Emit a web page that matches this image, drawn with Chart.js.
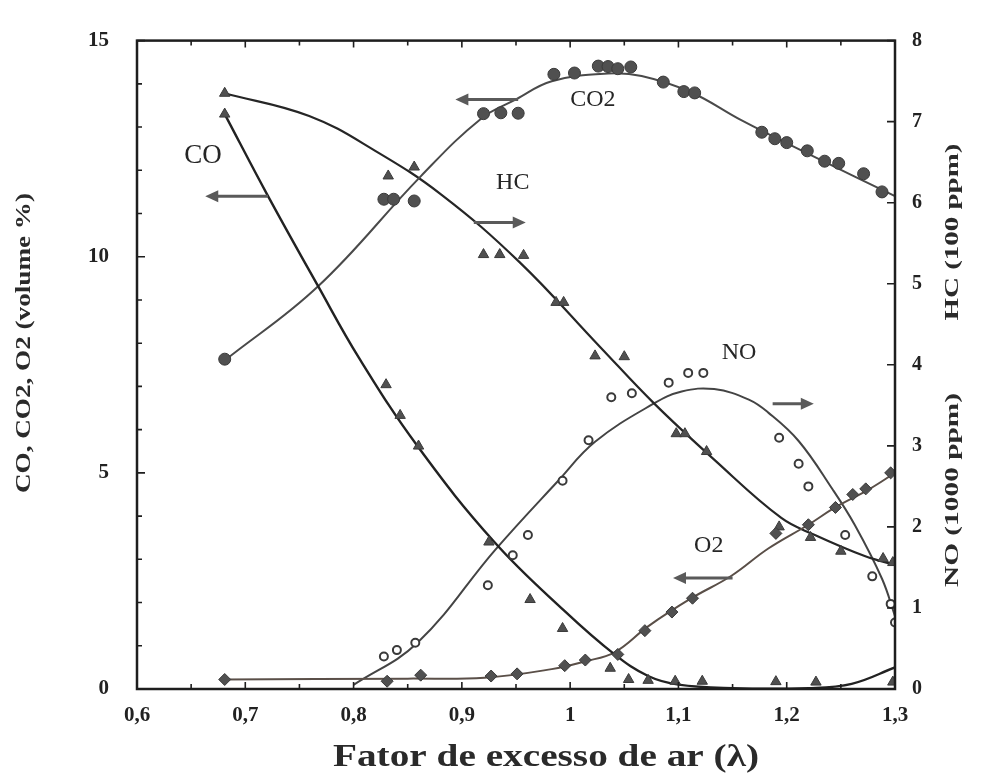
<!DOCTYPE html>
<html><head><meta charset="utf-8">
<script src="https://cdn.jsdelivr.net/npm/chart.js@4.4.1/dist/chart.umd.min.js"></script>
<style>html,body{margin:0;padding:0;background:#fff;}#wrap{width:984px;height:774px;}</style>
</head><body><div id="wrap"><canvas id="c" width="984" height="774"></canvas></div>
<script>
// ---- Data (x = excess air factor λ) ----
// CO (volume %, left axis)
const coCurveX = [0.681, 0.72, 0.767, 0.805, 0.859, 0.93, 0.995, 1.041, 1.072, 1.1, 1.15, 1.22, 1.26, 1.3];
const coCurveY = [13.3, 11.45, 9.33, 7.66, 5.62, 3.4, 1.8, 0.8, 0.3, 0.1, 0.02, 0.02, 0.12, 0.5];
const coPtsX = [0.681, 0.83, 0.843, 0.86, 0.925, 0.963, 0.993, 1.037, 1.054, 1.072, 1.097, 1.122, 1.19, 1.227, 1.298];
const coPtsY = [13.3, 7.04, 6.33, 5.62, 3.4, 2.07, 1.4, 0.48, 0.22, 0.2, 0.18, 0.18, 0.17, 0.16, 0.16];
// CO2 (volume %, left axis)
const co2CurveX = [0.681, 0.767, 0.862, 0.918, 0.95, 0.983, 1.035, 1.066, 1.112, 1.158, 1.22, 1.3];
const co2CurveY = [7.6, 9.31, 11.86, 13.2, 13.64, 14.06, 14.24, 14.18, 13.8, 13.16, 12.38, 11.4];
const co2PtsX = [0.681, 0.828, 0.837, 0.856, 0.92, 0.936, 0.952, 0.985, 1.004, 1.026, 1.035, 1.044, 1.056, 1.086, 1.105, 1.115, 1.177, 1.189, 1.2, 1.219, 1.235, 1.248, 1.271, 1.288];
const co2PtsY = [7.63, 11.33, 11.33, 11.29, 13.31, 13.33, 13.32, 14.22, 14.25, 14.41, 14.4, 14.35, 14.39, 14.04, 13.82, 13.79, 12.88, 12.73, 12.64, 12.45, 12.21, 12.16, 11.92, 11.5];
// O2 (volume %, left axis)
const o2CurveX = [0.681, 0.85, 0.921, 0.983, 1.014, 1.041, 1.072, 1.112, 1.149, 1.183, 1.22, 1.244, 1.276, 1.3];
const o2CurveY = [0.22, 0.24, 0.26, 0.46, 0.64, 0.85, 1.45, 2.1, 2.62, 3.25, 3.8, 4.19, 4.62, 5.0];
const o2PtsX = [0.681, 0.831, 0.862, 0.927, 0.951, 0.995, 1.014, 1.044, 1.069, 1.094, 1.113, 1.19, 1.22, 1.245, 1.261, 1.273, 1.296];
const o2PtsY = [0.22, 0.18, 0.32, 0.3, 0.35, 0.54, 0.67, 0.8, 1.35, 1.78, 2.1, 3.6, 3.8, 4.2, 4.5, 4.63, 5.0];
// HC (100 ppm, right axis)
const hcCurveX = [0.681, 0.759, 0.82, 0.881, 0.953, 1.027, 1.077, 1.133, 1.195, 1.226, 1.272, 1.3];
const hcCurveY = [7.35, 7.07, 6.64, 6.1, 5.27, 4.23, 3.53, 2.83, 2.11, 1.9, 1.64, 1.53];
const hcPtsX = [0.681, 0.832, 0.856, 0.92, 0.935, 0.957, 0.987, 0.994, 1.023, 1.05, 1.098, 1.106, 1.126, 1.193, 1.222, 1.25, 1.289, 1.298];
const hcPtsY = [7.35, 6.33, 6.44, 5.36, 5.36, 5.35, 4.77, 4.77, 4.11, 4.1, 3.15, 3.15, 2.93, 2.0, 1.87, 1.7, 1.61, 1.56];
// NO (1000 ppm, right axis)
const noCurveX = [0.80, 0.859, 0.931, 0.989, 1.023, 1.077, 1.103, 1.133, 1.165, 1.183, 1.211, 1.242, 1.263, 1.288, 1.3];
const noCurveY = [0.05, 0.57, 1.72, 2.57, 3.05, 3.52, 3.67, 3.70, 3.57, 3.41, 3.06, 2.47, 2.02, 1.36, 0.9];
const noPtsX = [0.828, 0.84, 0.857, 0.924, 0.947, 0.961, 0.993, 1.017, 1.038, 1.057, 1.091, 1.109, 1.123, 1.193, 1.211, 1.22, 1.254, 1.279, 1.296, 1.3];
const noPtsY = [0.4, 0.48, 0.57, 1.28, 1.65, 1.9, 2.57, 3.07, 3.6, 3.65, 3.78, 3.9, 3.9, 3.1, 2.78, 2.5, 1.9, 1.39, 1.05, 0.82];

// Tick labels
const xTickLabels = ['0,6', '0,7', '0,8', '0,9', '1', '1,1', '1,2', '1,3'];
const leftTickLabels = ['0', '5', '10', '15'];
const rightTickLabels = ['0', '1', '2', '3', '4', '5', '6', '7', '8'];

// Curve name labels (left-axis coordinates)
const curveNames = ['CO', 'CO2', 'HC', 'NO', 'O2'];
const curveNameX = [0.661, 1.021, 0.947, 1.156, 1.128];
const curveNameY = [12.33, 13.63, 11.71, 7.78, 3.31];
// Axis-indicator arrows (left-axis coordinates)
const arrowFromX = [0.721, 0.952, 0.911, 1.187, 1.150];
const arrowToX = [0.663, 0.894, 0.959, 1.225, 1.095];
const arrowY = [11.4, 13.64, 10.79, 6.6, 2.57];

const xTitle = 'Fator de excesso de ar (λ)';
const yLeftTitle = 'CO, CO2, O2 (volume %)';
const yRightTitleHC = 'HC (100 ppm)';
const yRightTitleNO = 'NO (1000 ppm)';

function pts(xs, ys) { return xs.map((x, i) => ({ x: x, y: ys[i] })); }

const MARK = '#505050';
function curve(xs, ys, axis, color, w) {
  return { data: pts(xs, ys), yAxisID: axis, showLine: true, pointRadius: 0, borderColor: color, borderWidth: w,
           tension: 0.4, fill: false, order: 2 };
}
function marks(xs, ys, axis, style, r, bg, bc, bw) {
  return { data: pts(xs, ys), yAxisID: axis, showLine: false, pointStyle: style, pointRadius: r,
           backgroundColor: bg, borderColor: bc, borderWidth: bw, order: 1 };
}

const SERIF = '"Liberation Serif", "DejaVu Serif", serif';

// draw text centred at (0,0), stretched horizontally to a given width
function stretchText(ctx, text, size, weight, width) {
  ctx.font = weight + ' ' + size + 'px ' + SERIF;
  const w = ctx.measureText(text).width;
  const k = width / w;
  ctx.save();
  ctx.scale(k, 1);
  ctx.textAlign = 'center';
  ctx.fillText(text, 0, 0);
  ctx.restore();
}

const decor = {
  id: 'decor',
  afterDraw(chart) {
    const ctx = chart.ctx, a = chart.chartArea;
    const sx = chart.scales.x, sy = chart.scales.y, sy2 = chart.scales.y2;
    ctx.save();
    // frame
    ctx.strokeStyle = '#1e1e1e';
    ctx.lineWidth = 2.5;
    ctx.strokeRect(a.left, a.top, a.right - a.left, a.bottom - a.top);
    // inward ticks
    ctx.lineWidth = 1.6;
    ctx.beginPath();
    for (let i = 0; i <= 14; i++) {
      const px = sx.getPixelForValue(0.6 + i * 0.05);
      const len = (i % 2 === 0) ? 7 : 5;
      ctx.moveTo(px, a.bottom); ctx.lineTo(px, a.bottom - len);
      ctx.moveTo(px, a.top); ctx.lineTo(px, a.top + len);
    }
    for (let v = 0; v <= 15; v++) {
      const py = sy.getPixelForValue(v);
      const len = (v % 5 === 0) ? 8 : 5;
      ctx.moveTo(a.left, py); ctx.lineTo(a.left + len, py);
    }
    for (let v = 0; v <= 8; v++) {
      const py = sy2.getPixelForValue(v);
      ctx.moveTo(a.right, py); ctx.lineTo(a.right - 8, py);
    }
    ctx.stroke();
    // arrows
    ctx.strokeStyle = '#5a5a5a';
    ctx.fillStyle = '#5a5a5a';
    ctx.lineWidth = 3;
    for (let i = 0; i < arrowY.length; i++) {
      const x0 = sx.getPixelForValue(arrowFromX[i]);
      const x1 = sx.getPixelForValue(arrowToX[i]);
      const y = sy.getPixelForValue(arrowY[i]);
      const dir = x1 > x0 ? 1 : -1;
      ctx.beginPath(); ctx.moveTo(x0, y); ctx.lineTo(x1 - dir * 8, y); ctx.stroke();
      ctx.beginPath();
      ctx.moveTo(x1, y); ctx.lineTo(x1 - dir * 13, y - 6); ctx.lineTo(x1 - dir * 13, y + 6); ctx.closePath();
      ctx.fill();
    }
    // curve names
    ctx.fillStyle = '#262626';
    ctx.textAlign = 'center';
    ctx.textBaseline = 'middle';
    for (let i = 0; i < curveNames.length; i++) {
      ctx.font = (curveNames[i] === 'CO' ? '27px ' : '24px ') + SERIF;
      ctx.fillText(curveNames[i], sx.getPixelForValue(curveNameX[i]), sy.getPixelForValue(curveNameY[i]));
    }
    ctx.fillStyle = '#2a2a2a';
    // x title
    ctx.save();
    ctx.translate(546, 758);
    stretchText(ctx, xTitle, 31, 'bold', 426);
    ctx.restore();
    // left title
    ctx.save();
    ctx.translate(25, 343); ctx.rotate(-Math.PI / 2);
    stretchText(ctx, yLeftTitle, 21, 'bold', 300);
    ctx.restore();
    // right titles
    ctx.save();
    ctx.translate(953, 232); ctx.rotate(-Math.PI / 2);
    stretchText(ctx, yRightTitleHC, 18, 'bold', 177);
    ctx.restore();
    ctx.save();
    ctx.translate(953, 490); ctx.rotate(-Math.PI / 2);
    stretchText(ctx, yRightTitleNO, 18, 'bold', 194);
    ctx.restore();
    ctx.restore();
  }
};

const tickFont = { family: SERIF, size: 21, weight: 'bold' };

new Chart(document.getElementById('c'), {
  type: 'scatter',
  data: {
    datasets: [
      curve(coCurveX, coCurveY, 'y', '#222', 2.4),
      curve(co2CurveX, co2CurveY, 'y', '#4a4a4a', 2),
      curve(o2CurveX, o2CurveY, 'y', '#5a4f48', 2),
      curve(hcCurveX, hcCurveY, 'y2', '#262626', 2.2),
      curve(noCurveX, noCurveY, 'y2', '#444', 2),
      marks(coPtsX, coPtsY, 'y', 'triangle', 6, MARK, '#3a3a3a', 1),
      marks(co2PtsX, co2PtsY, 'y', 'circle', 6, MARK, '#3a3a3a', 1),
      marks(o2PtsX, o2PtsY, 'y', 'rectRot', 6, MARK, '#3a3a3a', 1),
      marks(hcPtsX, hcPtsY, 'y2', 'triangle', 6, MARK, '#3a3a3a', 1),
      marks(noPtsX, noPtsY, 'y2', 'circle', 4, '#ffffff', '#3a3a3a', 2)
    ]
  },
  options: {
    responsive: false,
    animation: false,
    devicePixelRatio: 1,
    layout: { padding: { top: 34, left: 0, right: 0, bottom: 0 } },
    plugins: { legend: { display: false }, tooltip: { enabled: false } },
    scales: {
      x: {
        type: 'linear', min: 0.6, max: 1.3,
        grid: { display: false, drawTicks: false },
        border: { display: false },
        afterFit(s) { s.height = 85; },
        ticks: {
          stepSize: 0.1, padding: 14, color: '#222', font: tickFont,
          callback(v) { const i = Math.round((v - 0.6) * 10); return xTickLabels[i] !== undefined ? xTickLabels[i] : ''; }
        }
      },
      y: {
        type: 'linear', position: 'left', min: 0, max: 15,
        grid: { display: false, drawTicks: false },
        border: { display: false },
        afterFit(s) { s.width = 137; },
        ticks: {
          stepSize: 5, padding: 28, color: '#222', font: tickFont,
          callback(v) { const i = Math.round(v / 5); return leftTickLabels[i] !== undefined ? leftTickLabels[i] : ''; }
        }
      },
      y2: {
        type: 'linear', position: 'right', min: 0, max: 8,
        grid: { display: false, drawTicks: false },
        border: { display: false },
        afterFit(s) { s.width = 89; },
        ticks: {
          stepSize: 1, padding: 17, color: '#222', font: { family: SERIF, size: 20, weight: 'bold' },
          callback(v) { const i = Math.round(v); return rightTickLabels[i] !== undefined ? rightTickLabels[i] : ''; }
        }
      }
    }
  },
  plugins: [decor]
});
</script>
</body></html>
